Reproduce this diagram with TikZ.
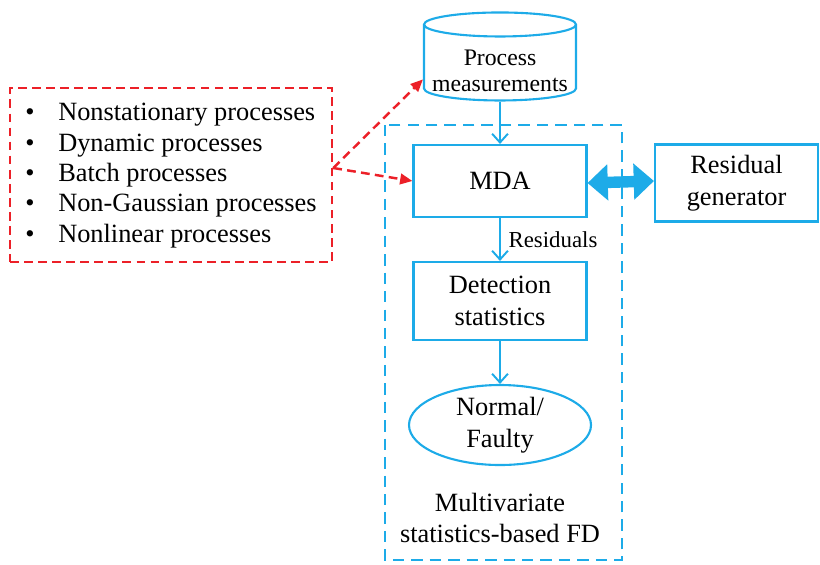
\documentclass[tikz,border=0pt]{standalone}
\usepackage{fontspec}
\setmainfont{Liberation Serif}
\usepackage{xcolor}
\usepackage{tikz}
\usetikzlibrary{arrows.meta,shapes,positioning}

\definecolor{fdblue}{RGB}{29,171,232}
\definecolor{fdred}{RGB}{236,32,40}

\tikzset{
  blk/.style={draw=fdblue, line width=1.2pt, align=center, inner sep=0pt},
  flow/.style={draw=fdblue, line width=1.1pt, -{Straight Barb[length=5pt,width=9pt]}},
  redlink/.style={draw=fdred, line width=1.4pt, dashed, dash pattern=on 5pt off 3pt,
    -{Triangle[length=7pt,width=6pt]}},
}

\begin{document}
\begin{tikzpicture}[font=\rmfamily\fontsize{15}{18}\selectfont]
        \useasboundingbox (0,0) rectangle (16.4,-11.28);
        \draw[fdblue, line width=1.2pt, dash pattern=on 6.5pt off 4pt]
        (7.7,-2.5) rectangle (12.44,-11.2);
        \node[blk, cylinder, shape border rotate=90, aspect=0.16,
        minimum width=3.04cm, minimum height=1.76cm] (pm) at (10,-1.26)
        {\raisebox{-8pt}[0pt][0pt]{\parbox{3cm}{\centering\fontsize{13.5}{15.2}\selectfont
        Process\\measurements}}};
        \node[blk, minimum width=3.46cm, minimum height=1.44cm] (mda)
        at (10,-3.62) {MDA};
        \node[blk, minimum width=3.26cm, minimum height=1.54cm] (resgen)
        at (14.73,-3.66) {Residual\\generator};
        \node[blk, minimum width=3.46cm, minimum height=1.56cm] (det)
        at (10,-6.02) {Detection\\statistics};
        \node[blk, ellipse, minimum width=3.64cm, minimum height=1.6cm] (nf)
        at (10,-8.5) {Normal/\\Faulty};
        \node[align=center] (fd) at (10,-10.36)
        {Multivariate\\statistics-based FD};
        \node[draw=fdred, line width=1.4pt, dash pattern=on 5pt off 3pt,
        minimum width=6.44cm, minimum height=3.48cm, inner sep=0pt,
        font=\rmfamily\fontsize{15}{18.2}\selectfont] (cases) at (3.42,-3.5)
        {\begin{tabular}{@{}l@{\hspace{13.5pt}}l@{}}
        \textbullet & Nonstationary processes\\[-0.9pt]
        \textbullet & Dynamic processes\\[-0.9pt]
        \textbullet & Batch processes\\[-0.9pt]
        \textbullet & Non-Gaussian processes\\[-0.9pt]
        \textbullet & Nonlinear processes
        \end{tabular}};
        \draw[flow] (pm) -- (mda);
        \draw[flow] (mda) -- node[right, pos=0.5, xshift=1pt,
        font=\rmfamily\fontsize{13}{15}\selectfont] {Residuals} (det);
        \draw[flow] (det) -- (nf);
        \draw[fdblue, line width=6.5pt,
        {Triangle[length=11.5pt,width=20pt]}-{Triangle[length=11.5pt,width=20pt]}]
        ([yshift=-0.04cm]mda.east) -- ([yshift=0.04cm]resgen.west);
        \draw[redlink] ([yshift=0.14cm]cases.east) -- (pm.192);
        \draw[redlink] ([yshift=0.14cm]cases.east) -- (mda.west);
    \end{tikzpicture}
\end{document}
